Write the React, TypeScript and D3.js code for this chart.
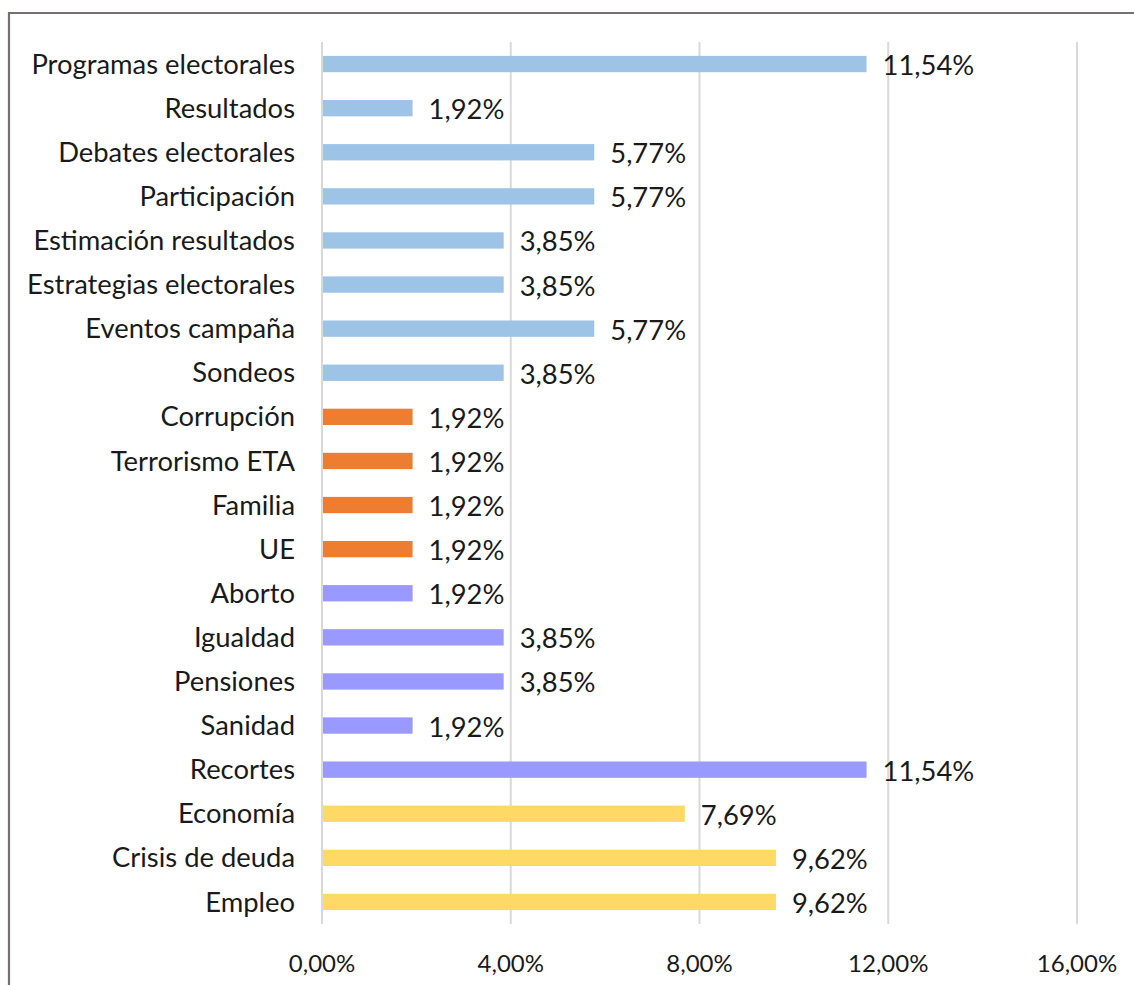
import React from "react";
import * as d3 from "d3";

const categories = [
  "Programas electorales", "Resultados", "Debates electorales", "Participación",
  "Estimación resultados", "Estrategias electorales", "Eventos campaña", "Sondeos",
  "Corrupción", "Terrorismo ETA", "Familia", "UE",
  "Aborto", "Igualdad", "Pensiones", "Sanidad", "Recortes",
  "Economía", "Crisis de deuda", "Empleo",
];
const values = [11.54, 1.92, 5.77, 5.77, 3.85, 3.85, 5.77, 3.85, 1.92, 1.92, 1.92, 1.92, 1.92, 3.85, 3.85, 1.92, 11.54, 7.69, 9.62, 9.62];
const groups = [0, 0, 0, 0, 0, 0, 0, 0, 1, 1, 1, 1, 2, 2, 2, 2, 2, 3, 3, 3];
const groupColors = ["#9DC3E6", "#ED7D31", "#9999FF", "#FFD966"];
const xTicks = [0, 4, 8, 12, 16];

const W = 1134, H = 985;
const FONT = "Lato, sans-serif";
const fmt = (v: number) => v.toFixed(2).replace(".", ",") + "%";

export default function App() {
  const x = d3.scaleLinear().domain([0, 16]).range([322, 1077]);
  const y = d3.scaleBand<string>().domain(categories).range([42, 924]).paddingInner(0.63).paddingOuter(0.315);
  const bw = y.bandwidth();
  return (
    <svg width={W} height={H} style={{ position: "absolute", left: 0, top: 0, background: "#fff" }}>
      <rect x={0} y={0} width={W} height={H} fill="#fff" />
      <path d={`M9,${H + 5} V13 H${W + 5}`} fill="none" stroke="#767171" strokeWidth={2.2} />
      {xTicks.map((t) => (
        <line key={t} x1={x(t)} x2={x(t)} y1={42} y2={924} stroke="#D9D9D9" strokeWidth={2} />
      ))}
      {categories.map((c, i) => (
        <g key={c}>
          <rect x={x(0) + 1} y={y(c)!} width={x(values[i]) - x(0) - 1} height={bw} fill={groupColors[groups[i]]} />
          <text x={295} y={y(c)! + bw / 2} dy="0.35em" textAnchor="end" fontFamily={FONT} fontSize={27.4} fill="#1a1a1a">{c}</text>
          <text x={x(values[i]) + 16} y={y(c)! + bw / 2} dy="0.4em" textAnchor="start" fontFamily={FONT} fontSize={27.4} fill="#1a1a1a">{fmt(values[i])}</text>
        </g>
      ))}
      {xTicks.map((t) => (
        <text key={t} x={x(t)} y={964} dy="0.35em" textAnchor="middle" fontFamily={FONT} fontSize={24} fill="#1a1a1a">{fmt(t)}</text>
      ))}
    </svg>
  );
}
